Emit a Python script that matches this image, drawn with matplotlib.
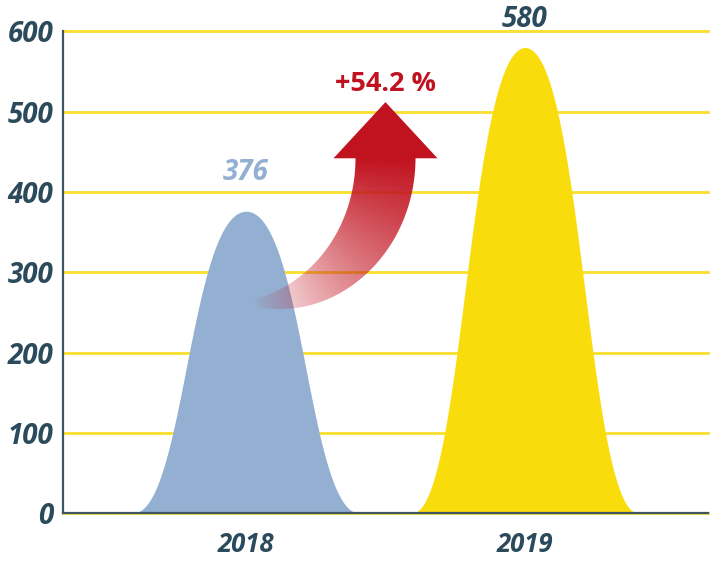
import numpy as np
import matplotlib
matplotlib.use("Agg")
import matplotlib.pyplot as plt
from matplotlib.patches import Polygon
from matplotlib.font_manager import FontProperties

# ---- data ----
categories = ["2018", "2019"]
values = [376, 580]
growth_label = "+54.2 %"
yticks = [0, 100, 200, 300, 400, 500, 600]

# ---- style ----
blue = "#93afd1"
yellow = "#f8dc0c"
dark = "#2b4a5b"
red = (0.757, 0.071, 0.122)
grid_yellow = "#f8df2e"
fp_y = FontProperties(family="Open Sans", weight="bold", style="italic", size=20)
fp_x = FontProperties(family="Open Sans", weight="bold", style="italic", size=18.5)
fp_v = FontProperties(family="Open Sans", weight="bold", style="italic", size=20)
fp_b = FontProperties(family="Open Sans", weight="bold", style="normal", size=19.5)

W, H = 713, 561
fig = plt.figure(figsize=(W / 100, H / 100), dpi=100)
ax = fig.add_axes([63 / W, 48 / H, (708 - 63) / W, (513 - 31.5) / H])
ax.set_autoscale_on(False)
xlim = (-0.656, 1.656)
ylim = (0, 600)
ax.set_xlim(*xlim)
ax.set_ylim(*ylim)

xpos = np.arange(len(categories))
half_w = 0.405


def bell(tt):
    # cubic Bezier bell profile (half), returns (distance from centre, relative height)
    p0, p1, p2, p3 = np.array([-1, 0]), np.array([-0.55, 0]), np.array([-0.5, 1]), np.array([0, 1])
    tt = tt[:, None]
    pts = ((1 - tt) ** 3) * p0 + 3 * ((1 - tt) ** 2) * tt * p1 + 3 * (1 - tt) * tt ** 2 * p2 + tt ** 3 * p3
    return pts[:, 0], pts[:, 1]


# grid
ax.set_yticks(yticks)
ax.yaxis.grid(True, color=grid_yellow, linewidth=2.0, zorder=0.5)
ax.set_axisbelow(True)
for gl in ax.get_ygridlines():
    gl.set_clip_on(False)

# peaks
colors = [blue, yellow]
tt = np.linspace(0, 1, 200)
bx, by = bell(tt)
prof_x = np.concatenate([bx, -bx[::-1][1:]])
prof_y = np.concatenate([by, by[::-1][1:]])
for xc, v, c in zip(xpos, values, colors):
    ax.fill_between(xc + prof_x * half_w, 0, v * prof_y, color=c, linewidth=0, zorder=2)

# spines
for s in ["top", "right"]:
    ax.spines[s].set_visible(False)
for s in ["left", "bottom"]:
    ax.spines[s].set_color("#3b5566")
    ax.spines[s].set_linewidth(1.6)
    ax.spines[s].set_zorder(2.5)

ax.set_xticks(xpos)
ax.set_xticklabels(categories)
ax.tick_params(axis="both", length=0)
ax.tick_params(axis="x", pad=13)
ax.tick_params(axis="y", pad=7)
for lab in ax.get_xticklabels():
    lab.set_fontproperties(fp_x)
    lab.set_color(dark)
for lab in ax.get_yticklabels():
    lab.set_fontproperties(fp_y)
    lab.set_color(dark)

# value labels
ax.annotate(str(values[0]), (xpos[0], values[0]), xytext=(0, 28), textcoords="offset points",
            ha="center", va="center", fontproperties=fp_v,
            color=blue, zorder=5, annotation_clip=False)
ax.annotate(str(values[1]), (xpos[1], values[1]), xytext=(0, 20), textcoords="offset points",
            ha="center", va="center", fontproperties=fp_v,
            color=dark, zorder=5, annotation_clip=False)

# growth label
mid_x = (xpos[0] + xpos[1]) / 2
ax.text(mid_x, 535, growth_label, ha="center", va="center", fontproperties=fp_b,
        color=red, zorder=5)

# ---- curved gradient arrow ----
fig.canvas.draw()
tD = ax.transData
tail = tD.transform((xpos[0] + 0.025, 262))
headbase = tD.transform((mid_x, 442))
tip = tD.transform((mid_x, 512))
cx, cy = tail[0], headbase[1]
rx = headbase[0] - tail[0]
ry = headbase[1] - tail[1]

a = np.linspace(0, np.pi / 2, 120)
t = a / (np.pi / 2)
wid = 60 * (1 - 0.9 * t ** 2)
Px = cx + rx * np.cos(a)
Py = cy - ry * np.sin(a)
nx = np.cos(a) / rx
ny = -np.sin(a) / ry
nn = np.hypot(nx, ny)
nx, ny = nx / nn, ny / nn
outer = np.column_stack([Px + nx * wid / 2, Py + ny * wid / 2])
inner = np.column_stack([Px - nx * wid / 2, Py - ny * wid / 2])
head = np.array([
    [cx + rx - 52, cy],
    [tip[0], tip[1]],
    [cx + rx + 52, cy],
])
poly_disp = np.vstack([inner[:1], head, outer, inner[::-1]])
poly_data = tD.inverted().transform(poly_disp)
clip = Polygon(poly_data, closed=True, transform=ax.transData, facecolor="none", edgecolor="none")
ax.add_patch(clip)

x0d, y0d = poly_disp.min(axis=0) - 2
x1d, y1d = poly_disp.max(axis=0) + 2
nxp, nyp = int(x1d - x0d), int(y1d - y0d)
gx = np.linspace(x0d, x1d, nxp)
gy = np.linspace(y0d, y1d, nyp)
GX, GY = np.meshgrid(gx, gy)
ang = np.arctan2(-(GY - cy) / ry, (GX - cx) / rx)
ttg = np.clip(ang / (np.pi / 2), 0, 1)
alpha = np.clip((1 - ttg) ** 0.85, 0, 1)
img = np.zeros((nyp, nxp, 4))
img[..., 0], img[..., 1], img[..., 2] = red
img[..., 3] = alpha
(dx0, dy0) = tD.inverted().transform((x0d, y0d))
(dx1, dy1) = tD.inverted().transform((x1d, y1d))
im = ax.imshow(img, extent=[dx0, dx1, dy0, dy1], origin="lower", aspect="auto",
               zorder=3, interpolation="bilinear")
im.set_clip_path(clip)
ax.set_xlim(*xlim)
ax.set_ylim(*ylim)

fig.savefig("out.png", dpi=100)
